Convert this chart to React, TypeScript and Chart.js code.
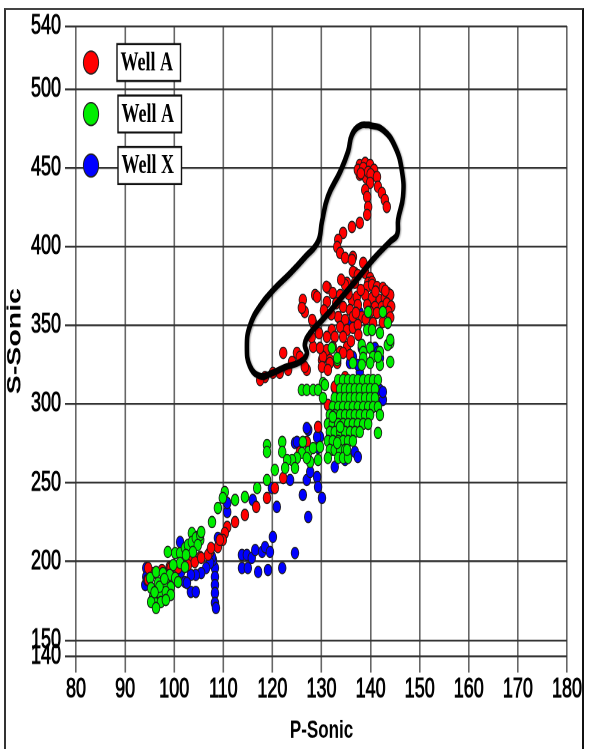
import React, { useEffect, useRef } from "react";
import { Chart, registerables } from "chart.js";

Chart.register(...registerables);

// ---------- data ----------
const xTicks = [80, 90, 100, 110, 120, 130, 140, 150, 160, 170, 180];
const yTicks = [140, 150, 200, 250, 300, 350, 400, 450, 500, 540];
const seriesLabels = ["Well A", "Well A", "Well X"];
const seriesColors = ["#ff0000", "#00ee00", "#0000ff"];
const xTitle = "P-Sonic";
const yTitle = "S-Sonic";

const redWellA: [number, number][] = [
  [137.8, 451.9], [138.9, 453.2], [139.9, 451.9], [140.7, 448.8], [140.3, 444.9], [139.1, 443.7],
  [137.8, 445.6], [137.4, 448.8], [138.5, 450.0], [139.5, 447.5], [138.0, 446.5], [140.0, 446.0],
  [141.3, 444.3], [141.5, 438.0], [142.3, 434.1], [142.9, 429.7], [143.3, 425.2],
  [139.9, 440.5], [138.9, 436.0], [139.3, 431.6], [139.5, 425.2], [139.3, 420.2], [137.8, 415.1],
  [136.2, 412.5], [134.4, 408.7], [133.4, 404.3], [133.2, 399.8], [133.8, 396.0], [134.8, 392.9],
  [136.4, 393.5], [138.5, 389.7], [136.8, 383.3], [138.9, 383.3], [139.9, 380.1], [139.5, 377.0],
  [136.2, 391.6], [136.4, 384.0], [137.4, 382.0], [140.3, 377.6], [135.2, 377.0],
  [126.2, 366.2], [128.7, 369.3], [126.6, 358.5], [128.3, 351.6], [131.3, 373.8], [131.1, 364.9],
  [132.3, 370.6], [133.8, 369.3], [134.8, 375.7], [136.8, 377.0], [139.3, 374.4], [140.3, 375.7],
  [141.3, 374.4], [142.5, 373.8], [143.5, 370.6], [136.2, 366.2], [137.2, 368.1], [138.9, 369.3],
  [140.3, 367.4], [141.9, 366.2], [142.9, 367.4], [144.0, 369.3], [137.4, 363.0], [139.3, 363.0],
  [140.9, 361.7], [142.3, 361.7], [134.4, 361.7], [135.8, 359.8], [133.4, 355.4], [134.8, 353.5],
  [136.4, 355.4], [138.2, 355.4], [139.9, 358.5], [141.3, 357.9], [132.1, 347.1], [133.8, 349.0],
  [135.2, 347.1], [136.4, 348.4], [137.4, 350.3], [131.1, 342.7], [132.7, 342.7], [134.4, 342.7],
  [131.1, 334.4], [132.3, 336.3], [133.8, 333.1], [135.2, 336.3], [135.8, 331.2], [130.1, 328.0],
  [131.7, 328.0], [133.2, 326.1], [128.3, 336.3],
  [129.1, 368.1], [126.0, 361.1], [125.0, 332.5], [128.1, 353.5], [130.3, 330.0], [131.7, 326.1],
  [130.1, 323.6], [134.4, 332.5], [129.7, 335.7], [143.3, 364.0], [144.2, 362.0], [143.6, 358.5],
  [143.0, 372.0], [141.0, 371.5], [138.0, 372.5], [135.5, 370.0], [137.0, 358.0], [139.0, 354.0],
  [140.5, 351.5], [142.5, 352.0], [144.0, 355.0], [133.0, 364.0], [132.0, 357.0], [130.5, 359.5],
  [129.5, 345.0], [128.0, 342.5], [136.0, 340.0], [137.5, 344.0], [131.0, 374.5], [134.0, 379.0],
  [122.2, 332.5], [123.2, 321.7], [121.5, 319.8], [120.1, 319.8], [118.5, 317.2], [117.5, 315.3],
  [127.0, 321.7], [124.0, 326.8], [125.6, 330.0],
  [131.3, 299.5], [129.3, 285.5], [125.6, 269.6], [127.0, 276.0], [126.6, 323.6], [131.3, 321.7],
  [132.7, 311.0], [134.8, 317.2],
  [122.2, 253.1], [120.5, 246.7], [118.9, 240.4], [116.7, 234.7], [114.4, 229.6], [112.4, 225.1],
  [110.8, 222.0], [110.3, 218.1], [109.9, 213.7], [108.9, 209.2], [107.3, 206.1], [105.3, 202.9],
  [103.2, 201.0], [101.2, 197.8], [99.1, 196.5], [97.5, 194.6], [95.7, 192.7], [94.7, 195.9],
  [99.3, 195.9], [100.8, 195.9], [102.8, 197.8], [104.2, 199.7], [105.5, 202.3], [106.9, 204.2],
  [94.7, 188.3], [107.5, 208.6], [109.3, 213.7],
];

const greenWellA: [number, number][] = [
  [133.4, 315.3], [134.4, 315.3], [135.4, 315.3], [136.4, 315.3], [137.4, 315.3], [138.5, 315.3], [139.5, 315.3], [140.5, 315.3], [141.5, 315.3],
  [133.8, 309.6], [134.8, 309.6], [135.8, 309.6], [136.8, 309.6], [137.8, 309.6], [138.9, 309.6], [139.9, 309.6], [140.9, 309.6],
  [132.7, 303.9], [133.8, 303.9], [134.8, 303.9], [135.8, 303.9], [136.8, 303.9], [137.8, 303.9], [138.9, 303.9], [139.9, 303.9], [140.9, 303.9],
  [132.3, 298.2], [133.4, 298.2], [134.4, 298.2], [135.4, 298.2], [136.4, 298.2], [137.4, 298.2], [138.5, 298.2], [139.5, 298.2], [140.5, 298.2], [141.5, 298.2],
  [131.7, 293.1], [132.7, 293.1], [133.8, 293.1], [134.8, 293.1], [135.8, 293.1], [136.8, 293.1], [137.8, 293.1], [138.9, 293.1], [139.9, 293.1], [141.9, 293.1],
  [131.3, 287.4], [132.3, 287.4], [133.4, 287.4], [134.4, 287.4], [135.4, 287.4], [136.4, 287.4], [137.4, 287.4], [138.5, 287.4], [139.5, 287.4],
  [131.7, 282.3], [132.7, 282.3], [133.8, 282.3], [134.8, 282.3], [135.8, 282.3], [136.8, 282.3], [137.8, 282.3],
  [131.3, 276.6], [132.3, 276.6], [133.4, 276.6], [134.4, 276.6], [135.4, 276.6], [136.4, 276.6],
  [131.7, 270.9], [132.7, 270.9], [133.8, 270.9], [134.8, 270.9],
  [133.4, 265.8], [134.4, 265.8], [135.4, 265.8], [141.5, 281.7],
  [139.5, 358.5], [142.5, 358.5], [143.5, 351.6], [139.3, 347.1], [140.3, 347.1], [141.9, 345.2],
  [138.2, 337.6], [139.9, 335.7], [138.5, 333.1], [141.9, 333.1], [144.0, 338.8], [132.1, 335.7],
  [133.2, 328.0], [138.5, 329.3], [140.5, 330.0], [136.4, 326.1], [138.2, 324.9], [139.9, 326.1],
  [141.9, 324.9], [144.0, 326.8], [141.5, 330.0], [143.5, 337.6], [144.0, 340.8], [133.2, 329.3],
  [130.3, 313.4], [126.0, 309.0], [127.0, 309.0], [128.3, 309.0], [129.3, 309.0], [130.3, 303.9], [130.7, 312.2],
  [126.2, 276.0], [127.3, 269.6], [128.3, 272.1], [126.0, 269.0], [129.7, 272.8], [127.7, 263.2],
  [118.9, 274.0], [118.9, 269.6], [122.0, 276.0], [122.0, 269.6], [125.0, 265.8], [124.0, 264.5],
  [123.0, 264.5], [122.6, 259.4], [124.6, 259.4], [120.5, 258.2], [127.0, 265.8], [129.3, 264.5],
  [131.3, 265.8], [132.3, 291.9], [133.8, 285.5], [133.2, 275.3], [135.2, 270.9],
  [118.9, 251.8], [116.9, 246.7], [114.4, 241.0], [112.4, 239.1], [110.3, 244.2], [109.9, 240.4],
  [108.9, 234.0], [107.7, 225.1], [103.6, 218.1], [104.6, 215.6], [105.3, 213.7],
  [98.7, 206.1], [100.2, 205.4], [101.2, 205.4], [102.2, 208.6], [102.8, 210.5], [103.6, 212.4],
  [104.4, 215.0], [105.3, 216.9], [105.5, 218.8], [104.8, 210.5], [103.8, 206.1], [102.4, 204.2],
  [101.2, 199.1], [102.2, 196.5], [99.8, 197.8],
  [95.1, 189.6], [96.3, 193.4], [97.7, 192.7], [99.1, 191.5], [100.2, 189.6], [95.3, 183.2],
  [96.7, 186.4], [98.3, 186.4], [99.3, 183.8], [100.8, 187.0], [95.7, 177.5], [97.1, 180.0],
  [98.3, 180.7], [99.3, 178.8], [96.1, 173.7], [97.3, 174.3], [98.3, 175.6], [95.3, 174.3],
  [96.3, 170.5], [97.0, 184.0], [98.0, 189.0], [96.0, 180.5],
];

const blueWellX: [number, number][] = [
  [94.3, 195.9], [94.3, 190.2], [94.1, 185.1], [94.5, 188.3],
  [108.3, 195.9], [108.3, 190.2], [108.3, 185.1], [108.3, 180.0], [108.3, 173.7], [108.5, 170.5],
  [107.9, 201.0], [107.7, 202.9], [107.3, 199.1], [106.5, 195.9], [105.5, 192.7], [104.4, 191.5],
  [103.4, 191.5], [102.2, 187.0], [101.4, 193.4], [103.4, 180.7], [104.4, 180.7], [101.2, 212.4],
  [108.9, 215.0], [110.8, 231.5], [110.8, 237.2], [102.6, 186.4],
  [113.8, 204.2], [114.8, 204.2], [115.8, 202.3], [113.8, 195.9], [115.0, 195.9], [117.1, 193.4],
  [116.5, 207.3], [117.9, 206.1], [118.5, 209.2], [119.5, 206.1], [119.1, 194.6], [122.0, 195.9],
  [120.1, 215.6], [124.6, 205.4],
  [116.0, 239.1], [120.9, 234.7], [119.9, 246.7], [123.6, 251.8], [126.2, 242.3], [127.3, 228.3],
  [127.0, 251.8], [129.1, 253.7], [130.1, 240.4], [129.3, 247.4], [124.6, 275.3], [127.3, 283.6],
  [129.7, 279.1], [129.3, 272.1], [132.3, 270.9], [134.8, 264.5], [132.7, 260.1], [127.7, 256.9],
  [133.2, 310.3], [135.8, 326.1], [137.8, 320.4], [141.9, 309.0], [142.5, 302.6], [142.5, 307.7],
  [133.8, 298.2], [132.7, 310.3], [135.2, 310.3], [133.8, 291.2], [127.0, 284.8], [129.1, 279.1],
  [135.4, 276.0], [136.8, 269.6], [137.4, 266.4], [125.0, 276.0], [135.8, 350.3], [137.8, 357.9],
  [136.4, 330.0], [140.9, 335.7], [141.5, 333.1], [141.9, 329.3], [137.4, 324.9], [138.2, 335.7],
];

// hand-drawn outline around the upper red points (data coordinates)
const outlinePath: [number, number][] = [
  [139.7, 477.3], [142.5, 474.2], [145.0, 463.4], [146.4, 447.6], [146.6, 431.8], [145.6, 417.2],
  [145.4, 407.7], [144.0, 403.3], [140.5, 391.9], [137.2, 379.2], [133.8, 366.6], [130.3, 353.9],
  [127.7, 345.1], [126.6, 338.1], [127.0, 331.8], [125.6, 326.7], [122.6, 323.5], [119.9, 319.7],
  [117.5, 317.8], [115.4, 324.2], [114.8, 336.8], [115.4, 349.5], [117.5, 362.2], [120.5, 373.5],
  [123.6, 383.0], [126.6, 393.2], [129.3, 403.3], [130.1, 416.0], [131.3, 431.8], [133.8, 447.6],
  [135.4, 460.3], [136.2, 471.0], [137.8, 476.7], [139.7, 477.3],
];

// ---------- layout ----------
const W = 589;
const FULL_H = 749;
const H = 500;
const SY = FULL_H / H;
const AREA_TOP = 26.2 / SY;
const AREA_BOTTOM = 656 / SY;
const AREA_LEFT = 76;
const AREA_RIGHT = 567;

const legendPlugin = {
  id: "boxedLegend",
  afterDatasetsDraw(chart: any) {
    const { ctx, chartArea } = chart;
    const boxH = 37 / SY;
    const gap = 51.5 / SY;
    const top0 = 44 / SY;
    ctx.save();
    for (let i = 0; i < 3; i++) {
      const ds = chart.data.datasets[i];
      const by = top0 + i * gap;
      const cy = by + boxH / 2;
      const mx = chartArea.left + 15;
      ctx.beginPath();
      ctx.arc(mx, cy, 7.6, 0, Math.PI * 2);
      ctx.fillStyle = ds.backgroundColor;
      ctx.fill();
      ctx.lineWidth = 1;
      ctx.strokeStyle = "#222";
      ctx.stroke();
      const bx = chartArea.left + 41 + (i > 0 ? 1 : 0);
      ctx.font = "bold 18px 'Liberation Serif', 'Times New Roman', serif";
      const tw = ctx.measureText(ds.label).width;
      const bw = tw + 11;
      ctx.fillStyle = "#fff";
      ctx.fillRect(bx, by, bw, boxH);
      ctx.lineWidth = 1.4;
      ctx.strokeStyle = "#111";
      ctx.strokeRect(bx, by, bw, boxH);
      ctx.fillStyle = "#000";
      ctx.textBaseline = "middle";
      ctx.textAlign = "left";
      ctx.fillText(ds.label, bx + 3.5, cy + 0.5);
    }
    ctx.restore();
  },
};

const shadowPlugin = {
  id: "outlineShadow",
  beforeDatasetDraw(chart: any, args: any) {
    if (args.index === 3) {
      const ctx = chart.ctx;
      ctx.save();
      ctx.shadowColor = "rgba(0,0,0,0.35)";
      ctx.shadowBlur = 3;
      ctx.shadowOffsetX = 2;
      ctx.shadowOffsetY = 1;
    }
  },
  afterDatasetDraw(chart: any, args: any) {
    if (args.index === 3) chart.ctx.restore();
  },
};

const toXY = (arr: [number, number][]) => arr.map(([x, y]) => ({ x, y }));

export default function App() {
  const ref = useRef<HTMLCanvasElement | null>(null);

  useEffect(() => {
    if (!ref.current) return;
    const pointStyle = (i: number, order: number) => ({
      label: seriesLabels[i],
      backgroundColor: seriesColors[i],
      borderColor: "#1a1a1a",
      borderWidth: 0.8,
      pointRadius: 3.8,
      order,
    });
    const chart = new Chart(ref.current, {
      type: "scatter",
      data: {
        datasets: [
          { ...pointStyle(0, 1), data: toXY(redWellA) },
          { ...pointStyle(1, 0), data: toXY(greenWellA) },
          { ...pointStyle(2, 2), data: toXY(blueWellX) },
          {
            type: "line",
            label: "outline",
            data: toXY(outlinePath),
            borderColor: "#000",
            backgroundColor: "#000",
            borderWidth: 4.5,
            pointRadius: 0,
            tension: 0.45,
            fill: false,
            showLine: true,
            order: -1,
            borderCapStyle: "round",
            borderJoinStyle: "round",
          } as any,
        ],
      },
      options: {
        responsive: false,
        maintainAspectRatio: false,
        animation: false,
        devicePixelRatio: 2,
        layout: { padding: { top: AREA_TOP, right: W - AREA_RIGHT, left: 0, bottom: 0 } },
        plugins: { legend: { display: false }, tooltip: { enabled: false } },
        scales: {
          x: {
            type: "linear",
            min: 80,
            max: 180,
            afterBuildTicks: (s: any) => {
              s.ticks = xTicks.map((v) => ({ value: v }));
            },
            afterFit: (s: any) => {
              s.height = H - AREA_BOTTOM;
            },
            grid: { color: "#666", lineWidth: 1.6, tickLength: 11 },
            border: { display: false },
            ticks: {
              color: "#000",
              font: { family: "'Liberation Sans', Arial, sans-serif", size: 18 },
              padding: 1,
              autoSkip: false,
              maxRotation: 0,
              textStrokeColor: "#000",
              textStrokeWidth: 0.6,
            },
            title: {
              display: true,
              text: xTitle,
              color: "#000",
              font: { family: "'Liberation Sans', Arial, sans-serif", size: 17, weight: "bold" },
              padding: { top: 0, bottom: 2 },
            },
          },
          y: {
            type: "linear",
            min: 140,
            max: 540,
            afterBuildTicks: (s: any) => {
              s.ticks = yTicks.map((v) => ({ value: v }));
            },
            afterFit: (s: any) => {
              s.width = AREA_LEFT;
            },
            grid: { color: "#333", lineWidth: 1.3, tickLength: 11 },
            border: { display: false },
            ticks: {
              color: "#000",
              font: { family: "'Liberation Sans', Arial, sans-serif", size: 18 },
              padding: 4,
              autoSkip: false,
              textStrokeColor: "#000",
              textStrokeWidth: 0.6,
            },
            title: {
              display: true,
              text: yTitle,
              color: "#000",
              font: { family: "'Liberation Sans', Arial, sans-serif", size: 19, weight: "bold" },
              padding: { top: 4, bottom: 0 },
            },
          },
        },
      },
      plugins: [legendPlugin, shadowPlugin],
    });
    return () => chart.destroy();
  }, []);

  return (
    <div
      style={{
        position: "fixed",
        left: 0,
        top: 0,
        width: W,
        height: FULL_H,
        overflow: "hidden",
        background: "#fff",
      }}
    >
      <div
        style={{
          position: "absolute",
          left: 0,
          top: 0,
          width: W,
          height: H,
          transform: `scaleY(${SY})`,
          transformOrigin: "0 0",
        }}
      >
        <canvas ref={ref} width={W} height={H} style={{ width: W, height: H, display: "block" }} />
      </div>
      <div
        style={{
          position: "absolute",
          left: 3.5,
          top: 7.5,
          width: 580,
          height: FULL_H,
          boxSizing: "border-box",
          borderTop: "2px solid #444",
          borderLeft: "2px solid #333",
          borderRight: "2px solid #111",
          pointerEvents: "none",
        }}
      />
    </div>
  );
}
